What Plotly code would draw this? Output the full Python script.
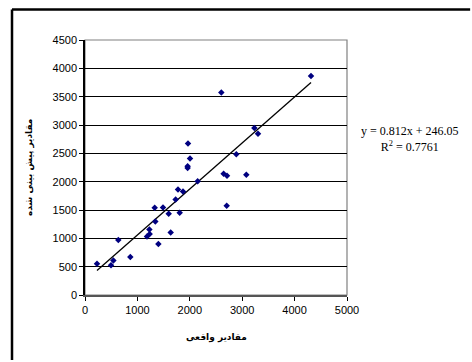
import plotly.graph_objects as go

actual = [229, 496, 541, 636, 865, 1183, 1228, 1234, 1330, 1342, 1400, 1489, 1597, 1635,
          1730, 1775, 1807, 1870, 1959, 1959, 1966, 2004, 2150, 2602, 2646, 2710, 2704,
          2888, 3079, 3232, 3302, 4313]
predicted = [552, 523, 611, 969, 670, 1034, 1157, 1075, 1539, 1298, 899, 1545, 1434, 1105,
             1686, 1863, 1451, 1827, 2239, 2274, 2673, 2409, 2009, 3572, 2139, 2103, 1575,
             2485, 2121, 2949, 2844, 3866]
slope = 0.812
intercept = 246.05
r2 = 0.7761
x_ticks = [0, 1000, 2000, 3000, 4000, 5000]
y_ticks = [0, 500, 1000, 1500, 2000, 2500, 3000, 3500, 4000, 4500]
x_title = "مقادیر واقعی"
y_title = "مقادیر پیش بینی شده"

trend_x = [min(actual), max(actual)]
trend_y = [slope * v + intercept for v in trend_x]

fig = go.Figure()
fig.add_trace(go.Scatter(x=trend_x, y=trend_y, mode="lines",
                         line=dict(color="black", width=1.3), hoverinfo="skip"))
fig.add_trace(go.Scatter(x=actual, y=predicted, mode="markers",
                         marker=dict(symbol="diamond", size=5, color="#000080")))

frame = dict(color="black", width=2.5)
fig.update_layout(
    width=472, height=362,
    margin=dict(l=85, r=125, t=40, b=67),
    paper_bgcolor="white", plot_bgcolor="white",
    showlegend=False,
    font=dict(family="Liberation Sans, Arial", size=11, color="black"),
    xaxis=dict(range=[0, 5000], tickvals=x_ticks, ticks="outside", ticklen=4,
               tickcolor="black", showline=True, linecolor="#555555", linewidth=1.5,
               showgrid=False, zeroline=False, tickfont=dict(size=11)),
    yaxis=dict(range=[0, 4500], tickvals=y_ticks, ticks="outside", ticklen=4,
               tickcolor="black", showline=True, linecolor="black", linewidth=1.5,
               showgrid=True, gridcolor="black", gridwidth=1, zeroline=False,
               tickfont=dict(size=11)),
    shapes=[
        dict(type="rect", xref="x domain", yref="y domain", x0=0, x1=1, y0=0, y1=1,
             line=dict(color="#808080", width=1.2), layer="below"),
        dict(type="line", xref="paper", yref="paper", x0=-0.2786, x1=1.47, y0=1.1196, y1=1.1196,
             line=frame, layer="above"),
        dict(type="line", xref="paper", yref="paper", x0=-0.2786, x1=-0.2786, y0=-0.255, y1=1.1196,
             line=frame, layer="above"),
    ],
    annotations=[
        dict(text="<b>" + x_title + "</b>", xref="paper", yref="paper", x=0.5, y=-0.168,
             showarrow=False, font=dict(family="DejaVu Sans, Arial", size=9),
             xanchor="center", yanchor="middle"),
        dict(text="<b>" + y_title + "</b>", xref="paper", yref="paper", x=-0.212, y=0.5,
             showarrow=False, textangle=-90, font=dict(family="DejaVu Sans, Arial", size=9),
             xanchor="center", yanchor="middle"),
        dict(text=f"y = {slope}x + {intercept}<br>R<sup>2</sup> = {r2}",
             xref="paper", yref="paper", x=1.24, y=0.61, showarrow=False,
             font=dict(family="Liberation Serif, Times New Roman", size=12),
             align="center", xanchor="center", yanchor="middle"),
    ],
)

fig.write_html("out.html", config={"displayModeBar": False},
               post_script="document.body.style.margin='0';")
